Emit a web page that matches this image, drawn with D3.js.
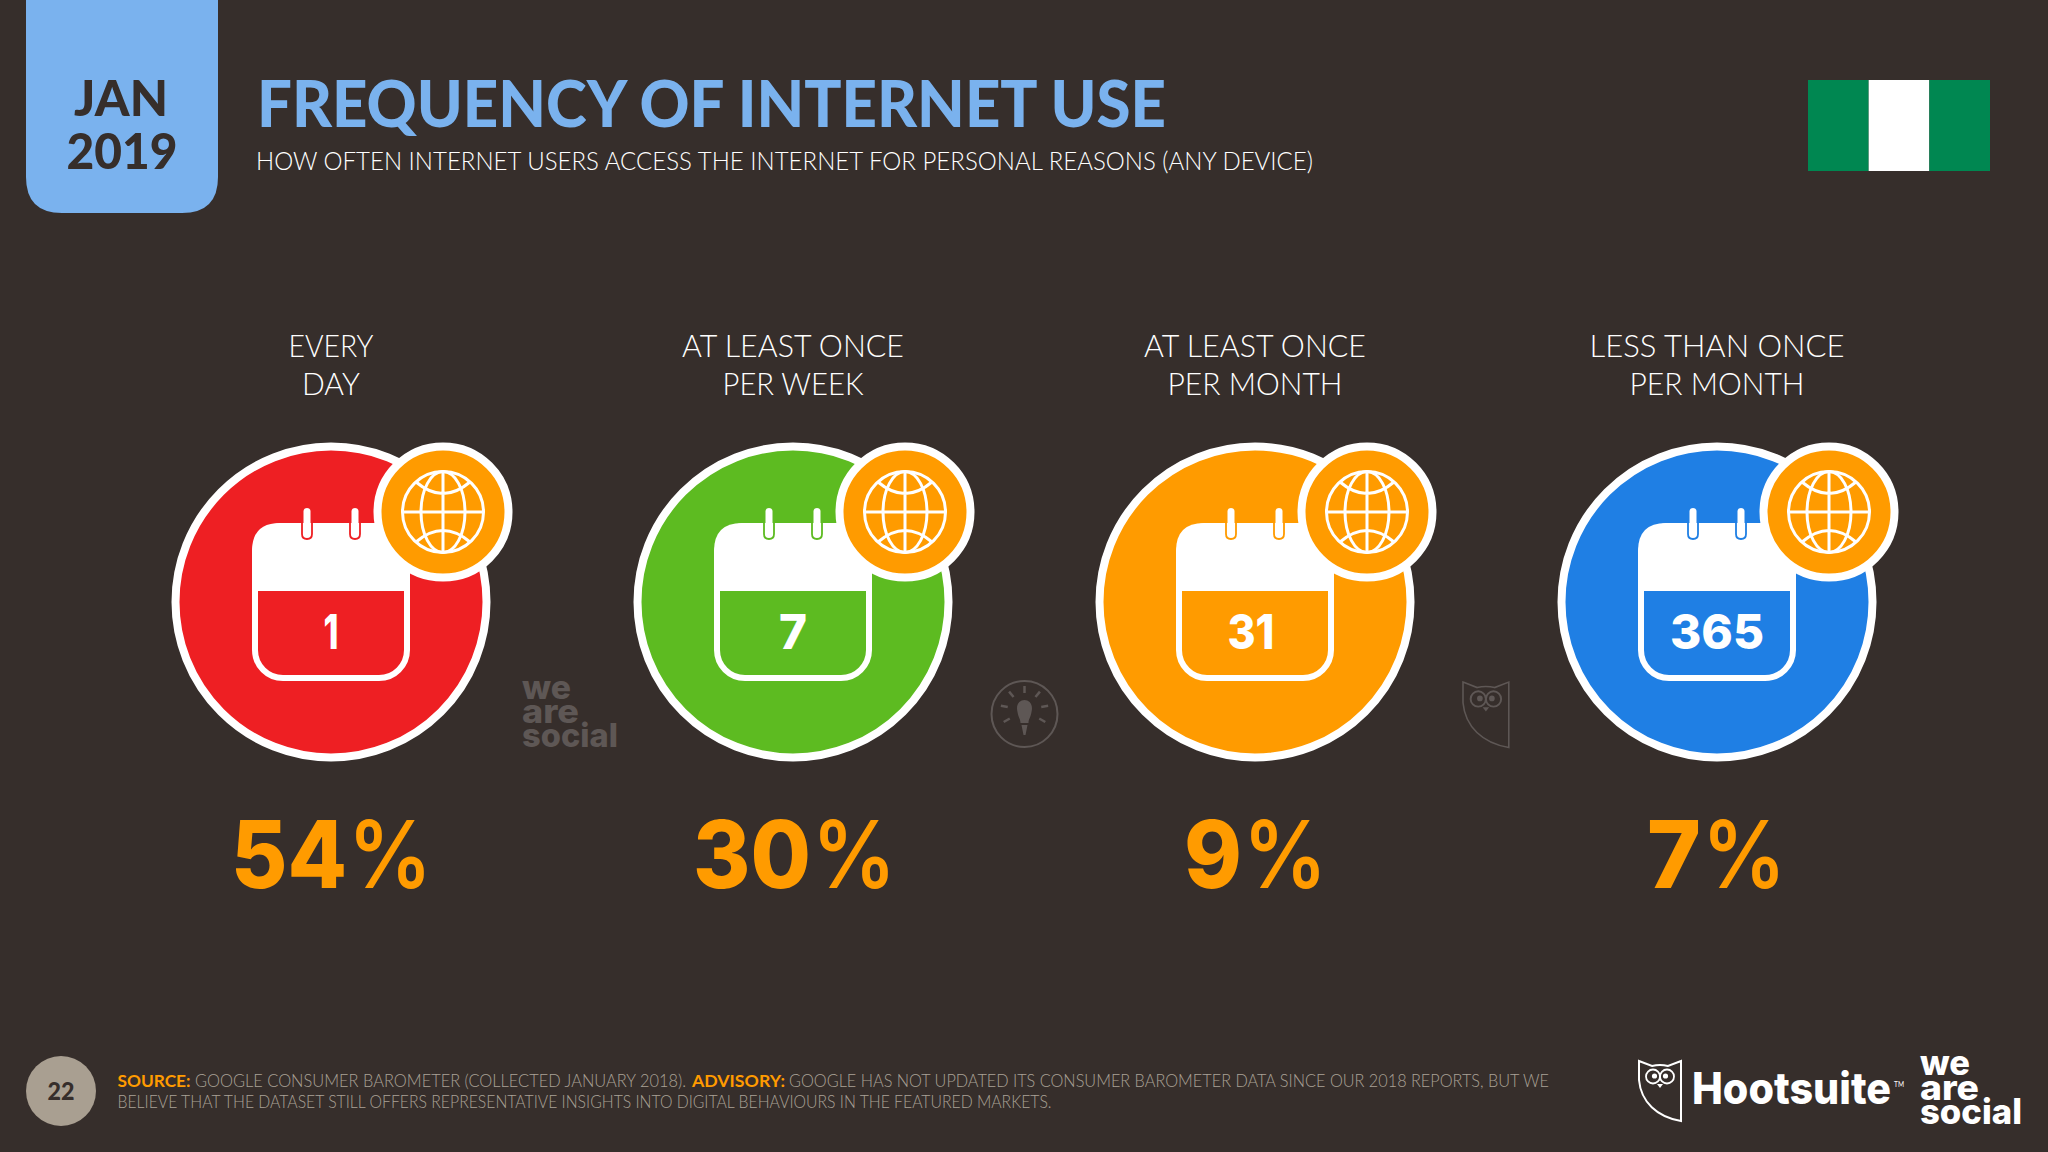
<!DOCTYPE html>
<html>
<head>
<meta charset="utf-8">
<script src="https://cdn.jsdelivr.net/npm/d3@7"></script>
<style>
  html, body { margin: 0; padding: 0; background: #362e2b; }
  svg { display: block; }
  text { font-family: Lato, "Open Sans", sans-serif; }
  text.heavy { font-family: Inter, Lato, sans-serif; }
</style>
</head>
<body>
<div id="chart"></div>
<script>
// values
var categories = ["every day", "week", "month", "less"];
var labelTop = ["EVERY", "AT LEAST ONCE", "AT LEAST ONCE", "LESS THAN ONCE"];
var labelBottom = ["DAY", "PER WEEK", "PER MONTH", "PER MONTH"];
var percents = [54, 30, 9, 7];
var dayNumbers = ["1", "7", "31", "365"];
var circleColors = ["#ee1f23", "#5dbb21", "#ff9b00", "#1f7fe4"];

var bg = "#362e2b", orange = "#ff9b00", blue = "#7ab2ee", grey = "#a9a196", mark = "#5e5755";

var w = 2048, h = 1152;
var svg = d3.select("#chart").append("svg").attr("width", w).attr("height", h);
svg.append("rect").attr("width", w).attr("height", h).attr("fill", bg);

var x = d3.scalePoint().domain(categories).range([331, 1717]);

// text squeezed to the measured width, the slide font is not available
function label(parent, str, px, py, size, weight, fill, width, anchor) {
  var t = parent.append("text")
    .attr("x", px).attr("y", py)
    .attr("font-size", size)
    .attr("font-weight", weight)
    .attr("fill", fill)
    .attr("text-anchor", anchor || "start")
    .text(str);
  if (width) t.attr("textLength", width).attr("lengthAdjust", "spacingAndGlyphs");
  return t;
}

/////////// header
svg.append("path")
  .attr("d", "M26,-5 H218 V177 Q218,213 182,213 H62 Q26,213 26,177 Z")
  .attr("fill", blue);
label(svg, "JAN", 121, 116, 49, 900, bg, 94, "middle");
label(svg, "2019", 122, 169, 50, 900, bg, 111, "middle");
label(svg, "FREQUENCY OF INTERNET USE", 257, 127, 65, 900, blue, 909);
label(svg, "HOW OFTEN INTERNET USERS ACCESS THE INTERNET FOR PERSONAL REASONS (ANY DEVICE)", 256, 170, 25.5, 300, "#fff", 1057);

// flag
var flagColors = ["#008751", "#fff", "#008751"];
var flagX = d3.scaleBand().domain(d3.range(3)).range([1808, 1990]);
svg.selectAll(".flag").data(flagColors).enter().append("rect")
  .attr("class", "flag")
  .attr("x", function(d, i) { return flagX(i); })
  .attr("y", 80).attr("width", flagX.bandwidth()).attr("height", 91)
  .attr("fill", function(d) { return d; });

/////////// the four columns
var groups = svg.selectAll(".col").data(categories).enter().append("g")
  .attr("class", "col")
  .attr("transform", function(d) { return "translate(" + x(d) + ",0)"; });

var labelWidthsTop = [85, 222, 222, 255];
var labelWidthsBottom = [58, 141, 175, 175];
var digitWidths = [116, 118, 58, 54];
var signWidth = 84;
var digitLeft = [-100, -100, -71, -70];
var dayWidths = [15, 28, 47, 94];
groups.each(function(d, i) {
  var g = d3.select(this);
  var c = circleColors[i];

  label(g, labelTop[i], 0, 357, 32, 300, "#fff", labelWidthsTop[i], "middle");
  label(g, labelBottom[i], 0, 395, 32, 300, "#fff", labelWidthsBottom[i], "middle");

  // big disc
  g.append("circle").attr("cy", 602).attr("r", 155.5).attr("fill", c)
    .attr("stroke", "#fff").attr("stroke-width", 8);

  // calendar
  g.append("rect").attr("x", -76).attr("y", 526).attr("width", 152).attr("height", 152)
    .attr("rx", 28).attr("fill", c).attr("stroke", "#fff").attr("stroke-width", 6);
  g.append("path")
    .attr("d", "M-79,591 V551 Q-79,523 -51,523 H51 Q79,523 79,551 V591 Z")
    .attr("fill", "#fff");
  [-24, 24].forEach(function(dx) {
    g.append("path")
      .attr("d", "M" + (dx - 5) + ",523 V534 Q" + (dx - 5) + ",539 " + dx + ",539 Q" + (dx + 5) + ",539 " + (dx + 5) + ",534 V523")
      .attr("fill", "none").attr("stroke", c).attr("stroke-width", 1.8);
    g.append("rect").attr("x", dx - 3.5).attr("y", 508).attr("width", 7).attr("height", 29)
      .attr("rx", 3.5).attr("fill", "#fff");
  });
  label(g, dayNumbers[i], i == 2 ? -4 : 0, 649, 48, 800, "#fff", dayWidths[i], "middle").classed("heavy", true);

  // globe badge
  var b = g.append("g").attr("transform", "translate(112,512)");
  b.append("circle").attr("r", 65.5).attr("fill", orange).attr("stroke", "#fff").attr("stroke-width", 8);
  var glob = b.append("g").attr("fill", "none").attr("stroke", "#fff").attr("stroke-width", 3);
  glob.append("circle").attr("r", 40.5);
  glob.append("ellipse").attr("rx", 22).attr("ry", 40.5);
  glob.append("path").attr("d", "M0,-40.5 V40.5 M-40.5,0 H40.5 M-27,-30 Q0,-7 27,-30 M-27,30 Q0,7 27,30");

  // percentage, digits and sign set apart so each can take its own width
  label(g, percents[i], digitLeft[i], 888, 93, 800, orange, digitWidths[i]).classed("heavy", true);
  label(g, "%", digitLeft[i] + digitWidths[i] + 1, 888, 93, 600, orange, signWidth).classed("heavy", true);
});

/////////// watermarks between the columns
function weAreSocial(px, sizes, fill, widths, lines) {
  var rows = ["we", "are", "social"];
  rows.forEach(function(r, i) {
    label(svg, r, px, lines[i], sizes, 800, fill, widths[i]).classed("heavy", true);
  });
}
weAreSocial(522, 33, mark, [49, 57, 96], [699, 723, 747]);

var bulb = svg.append("g").attr("transform", "translate(1024.5,714)");
bulb.append("circle").attr("r", 33).attr("fill", "none").attr("stroke", mark).attr("stroke-width", 2);
bulb.append("path").attr("d", "M-7,-2 C-11,-18 11,-18 7,-2 C6,4 4,5 4,9 H-4 C-4,5 -6,4 -7,-2 Z M-3,11 H3 L1,21 H-1 Z").attr("fill", mark);
d3.range(-120, 121, 40).forEach(function(a) {
  var r = a * Math.PI / 180;
  bulb.append("line")
    .attr("x1", 17 * Math.sin(r)).attr("y1", -4 - 17 * Math.cos(r))
    .attr("x2", 24 * Math.sin(r)).attr("y2", -4 - 24 * Math.cos(r))
    .attr("stroke", mark).attr("stroke-width", 2.5);
});

function owl(px, py, s, color, sw) {
  var o = svg.append("g").attr("transform", "translate(" + px + "," + py + ") scale(" + s + ")")
    .attr("fill", "none").attr("stroke", color);
  o.append("path").attr("stroke-width", sw / s)
    .attr("d", "M0,1 L13,6 Q21,4 29,6 L42,1 V61 C18,57 2,42 0,20 Z");
  o.append("circle").attr("cx", 14).attr("cy", 16.5).attr("r", 7).attr("stroke-width", 1.8);
  o.append("circle").attr("cx", 28).attr("cy", 16.5).attr("r", 7).attr("stroke-width", 1.8);
  o.append("circle").attr("cx", 15.5).attr("cy", 16).attr("r", 2.6).attr("fill", color).attr("stroke", "none");
  o.append("circle").attr("cx", 26.5).attr("cy", 16).attr("r", 2.6).attr("fill", color).attr("stroke", "none");
  o.append("path").attr("d", "M18,24 H24 L21,28 Z").attr("fill", color).attr("stroke", "none");
}
owl(1463, 681, 1.09, mark, 1.6);

/////////// footer
svg.append("circle").attr("cx", 61).attr("cy", 1091).attr("r", 35).attr("fill", "#a99f91");
label(svg, "22", 61, 1100, 25, 900, bg, 27, "middle");

label(svg, "SOURCE:", 117.5, 1087, 17.5, 700, orange, 73);
label(svg, "GOOGLE CONSUMER BAROMETER (COLLECTED JANUARY 2018).", 195, 1087, 17.5, 300, grey, 491);
label(svg, "ADVISORY:", 692, 1087, 17.5, 700, orange, 93);
label(svg, "GOOGLE HAS NOT UPDATED ITS CONSUMER BAROMETER DATA SINCE OUR 2018 REPORTS, BUT WE", 789, 1087, 17.5, 300, grey, 760);
label(svg, "BELIEVE THAT THE DATASET STILL OFFERS REPRESENTATIVE INSIGHTS INTO DIGITAL BEHAVIOURS IN THE FEATURED MARKETS.", 117.5, 1108, 17.5, 300, grey, 934);

owl(1639, 1060, 1, "#fff", 2);
label(svg, "Hootsuite", 1692, 1104, 44, 800, "#fff", 199).classed("heavy", true);
label(svg, "TM", 1894, 1087, 8, 400, "#fff", 10);
weAreSocial(1920, 35, "#fff", [50, 59, 102], [1075, 1100, 1124]);
</script>
</body>
</html>
